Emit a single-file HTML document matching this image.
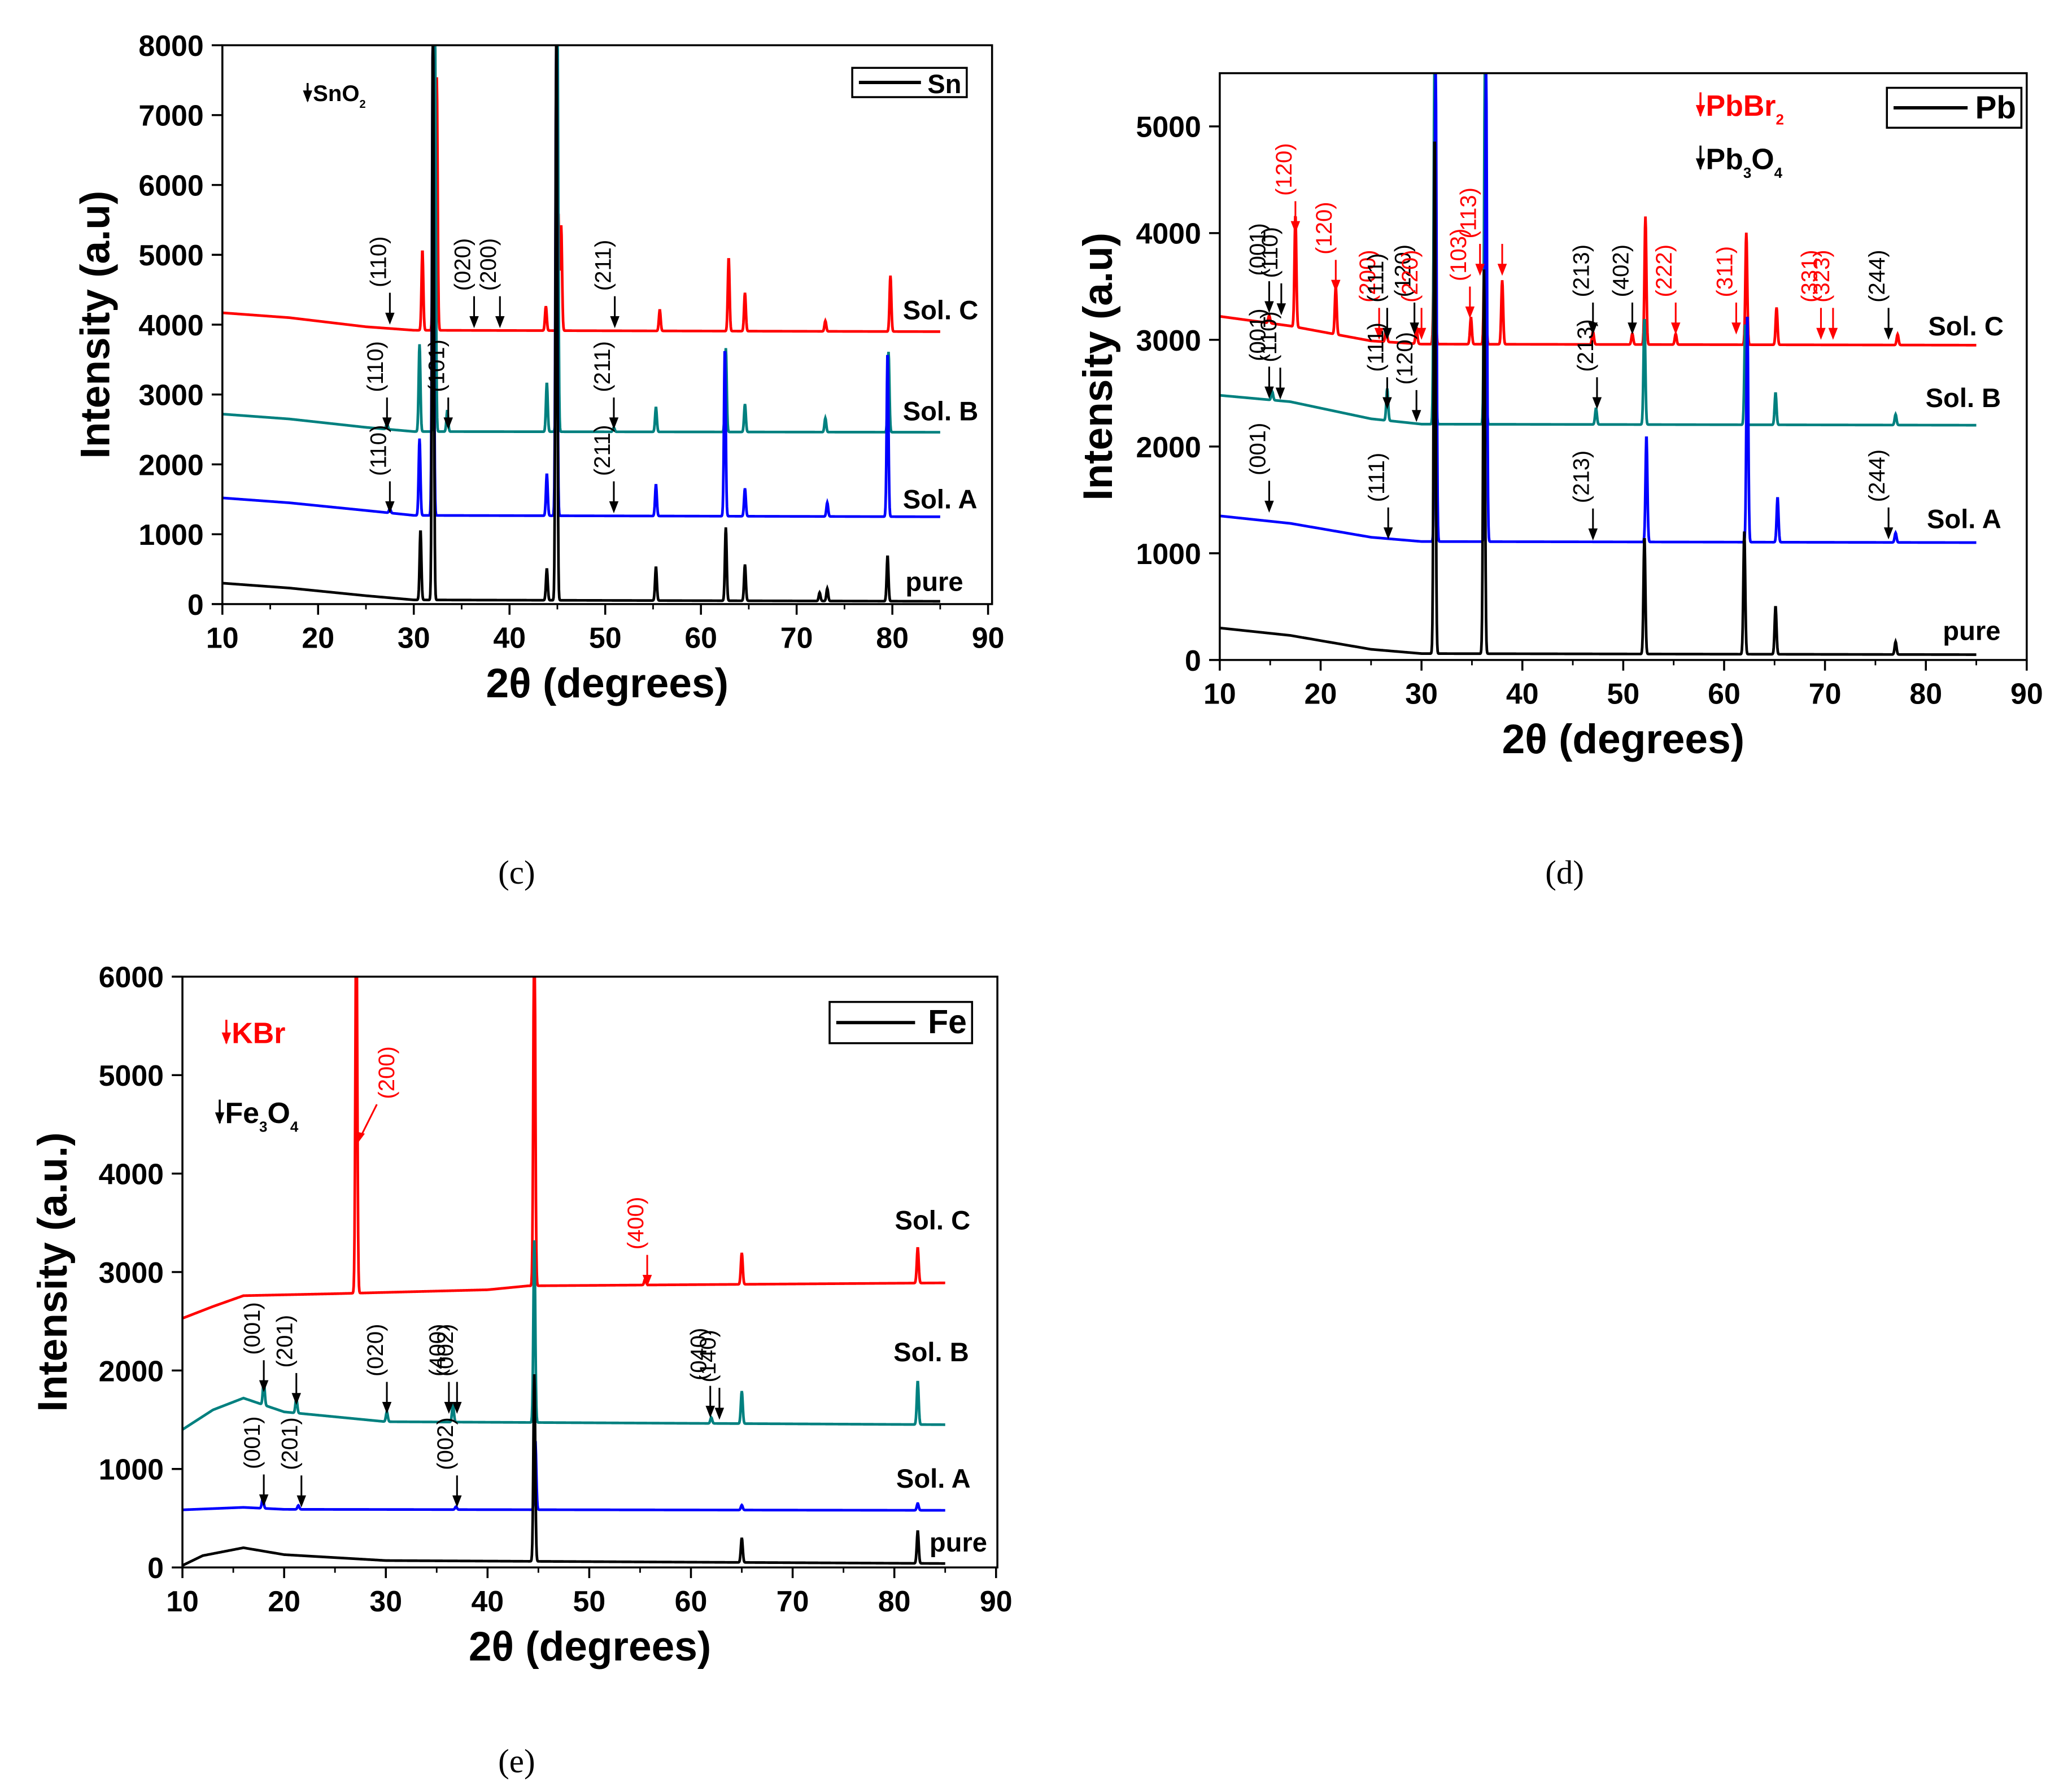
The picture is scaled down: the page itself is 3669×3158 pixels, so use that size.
<!DOCTYPE html>
<html><head><meta charset="utf-8">
<style>
html,body{margin:0;padding:0;background:#fff;}
svg{display:block;}
text{font-family:"Liberation Sans",Arial,sans-serif;}
</style></head>
<body>
<svg id="fig" width="3669" height="3158" viewBox="0 0 1556 1340" preserveAspectRatio="none" xmlns="http://www.w3.org/2000/svg"></svg>
<script>
// ===== Panel (c) Sn data =====
const snXTicks = [10,20,30,40,50,60,70,80,90];
const snYTicks = [0,1000,2000,3000,4000,5000,6000,7000,8000];
const snBase_pure = [[10,300],[17,230],[25,120],[30,60],[85,40]];
const snPeaks_pure = [[30.7,1000],[32.0,8500],[43.9,450],[44.9,8500],[55.3,480],[62.6,1050],[64.6,520],[72.4,120],[73.2,180],[79.5,650]];
const snBase_A = [[10,1520],[17,1450],[25,1340],[30,1270],[85,1250]];
const snPeaks_A = [[27.5,60],[30.6,1100],[32.0,7200],[43.9,600],[44.9,7200],[55.3,450],[62.5,2400],[64.6,400],[73.2,200],[79.5,2350]];
const snBase_B = [[10,2720],[17,2650],[25,2530],[30,2470],[85,2460]];
const snPeaks_B = [[27.2,80],[30.6,1250],[32.2,6000],[33.5,300],[43.9,700],[45.0,6000],[50.9,60],[55.3,350],[62.6,1200],[64.6,400],[73.0,200],[79.6,1150]];
const snBase_C = [[10,4170],[17,4100],[25,3970],[30,3920],[85,3900]];
const snPeaks_C = [[30.9,1150],[32.1,4600],[32.4,3600],[43.8,350],[45.1,1700],[45.4,1500],[55.7,300],[62.9,1050],[64.6,550],[73.0,150],[79.8,800]];

// ===== Panel (d) Pb data =====
const pbXTicks = [10,20,30,40,50,60,70,80,90];
const pbYTicks = [0,1000,2000,3000,4000,5000];
const pbBase_pure = [[10,300],[17,230],[25,100],[30,60],[85,50]];
const pbPeaks_pure = [[31.3,4900],[36.2,3600],[52.1,1100],[62.0,1150],[65.1,450],[77.0,120]];
const pbBase_A = [[10,1350],[17,1280],[25,1150],[30,1110],[85,1100]];
const pbPeaks_A = [[31.4,4500],[36.4,4500],[52.3,1000],[62.3,2150],[65.3,420],[77.0,90]];
const pbBase_B = [[10,2480],[17,2420],[25,2260],[30,2210],[85,2200]];
const pbPeaks_B = [[15.2,80],[26.6,300],[31.3,3500],[36.3,3500],[47.3,150],[52.1,1000],[62.1,950],[65.1,300],[77.0,100]];
const pbBase_C = [[10,3220],[17,3130],[25,2990],[30,2960],[85,2950]];
const pbPeaks_C = [[14.9,70],[17.5,1050],[21.5,450],[26.5,120],[29.5,150],[31.3,1600],[34.9,250],[36.3,1700],[38.0,600],[47.0,120],[50.9,100],[52.2,1200],[55.2,100],[62.2,1050],[65.2,350],[77.2,100]];

// ===== Panel (e) Fe data =====
const feXTicks = [10,20,30,40,50,60,70,80,90];
const feYTicks = [0,1000,2000,3000,4000,5000,6000];
const feBase_pure = [[10,20],[12,120],[16,200],[20,130],[30,70],[85,40]];
const fePeaks_pure = [[44.6,1900],[65.0,250],[82.3,330]];
const feBase_A = [[10,585],[16,610],[20,590],[85,580]];
const fePeaks_A = [[17.9,100],[21.4,40],[36.9,30],[44.7,700],[65.0,50],[82.3,70]];
const feBase_B = [[10,1400],[13,1600],[16,1720],[20,1580],[30,1480],[85,1450]];
const fePeaks_B = [[18.0,250],[21.2,150],[30.1,100],[36.6,180],[44.6,1850],[62.0,60],[65.0,330],[82.3,440]];
const feBase_C = [[10,2530],[13,2650],[16,2760],[25,2780],[40,2820],[44,2860],[85,2890]];
const fePeaks_C = [[27.1,4000],[44.6,4000],[55.5,60],[65.0,320],[82.3,360]];

const NS = "http://www.w3.org/2000/svg";
const svg = document.getElementById('fig');
function el(tag, attrs, parent){
  const e = document.createElementNS(NS, tag);
  for (const k in attrs) e.setAttribute(k, attrs[k]);
  (parent||svg).appendChild(e);
  return e;
}
function baseAt(base, x){
  for (let i=0;i<base.length-1;i++){
    if (x>=base[i][0] && x<=base[i+1][0]){
      const t=(x-base[i][0])/(base[i+1][0]-base[i][0]);
      return base[i][1]+t*(base[i+1][1]-base[i][1]);
    }
  }
  return base[base.length-1][1];
}
function profile(base, peaks, x, w){
  let y = baseAt(base, x);
  for (const p of peaks){ const d=(x-p[0])/w; y += p[1]*Math.exp(-d*d); }
  return y;
}
function makePanel(cfg){
  const g = el('g', {});
  
  
  const sx = v => cfg.x0 + (v-cfg.xmin)/(cfg.xmax-cfg.xmin)*(cfg.x1-cfg.x0);
  const sy = v => cfg.y0 - (v-cfg.ymin)/(cfg.ymax-cfg.ymin)*(cfg.y0-cfg.yTopVal);
  const clip = el('clipPath', {id: cfg.name+'-clip'}, g);
  el('rect', {x:cfg.x0, y:cfg.top, width:cfg.x1f-cfg.x0, height:cfg.y0-cfg.top}, clip);
  cfg.series.forEach(s=>{
    let d='';
    for (let x=10; x<=85.0001; x+=0.04){
      const v = profile(s.base, s.peaks, x, 0.13);
      d += (d?'L':'M') + sx(x).toFixed(2) + ' ' + Math.max(sy(v), cfg.top-5).toFixed(2);
    }
    const p = el('path', {d:d, fill:'none', stroke:s.color, 'stroke-width':2, 'clip-path':'url(#'+cfg.name+'-clip)'}, g);
    
    
    const t = el('text', {x:s.lx, y:s.ly, 'font-size':20, 'font-weight':'bold', fill:'#000'}, g);
    t.textContent = s.label;
    
    
  });
  const fr = el('rect', {x:cfg.x0, y:cfg.top, width:cfg.x1f-cfg.x0, height:cfg.y0-cfg.top, fill:'none', stroke:'#000', 'stroke-width':1.5}, g);
  
  
  cfg.xt.forEach(v=>{
    el('line', {x1:sx(v), x2:sx(v), y1:cfg.y0, y2:cfg.y0+8, stroke:'#000', 'stroke-width':1.5}, g);
    if (v<90) el('line', {x1:sx(v+5), x2:sx(v+5), y1:cfg.y0, y2:cfg.y0+4, stroke:'#000', 'stroke-width':1.2}, g);
    const t = el('text', {x:sx(v), y:cfg.y0+33, 'font-size':22, 'text-anchor':'middle', 'font-weight':'bold'}, g);
    t.textContent = v;
    
    
  });
  cfg.yt.forEach(v=>{
    el('line', {x1:cfg.x0-8, x2:cfg.x0, y1:sy(v), y2:sy(v), stroke:'#000', 'stroke-width':1.5}, g);
    const t = el('text', {x:cfg.x0-14, y:sy(v)+8, 'font-size':22, 'text-anchor':'end', 'font-weight':'bold'}, g);
    t.textContent = v;
    
    
  });
  const xt = el('text', {x:(cfg.x0+cfg.x1f)/2, y:cfg.y0+70, 'font-size':31, 'text-anchor':'middle', 'font-weight':'bold'}, g);
  xt.textContent = '2θ (degrees)';
  
  
  const yt = el('text', {x:0, y:0, 'font-size':31, 'text-anchor':'middle', 'font-weight':'bold', transform:'translate('+cfg.ytx+','+((cfg.top+cfg.y0)/2)+') rotate(-90)'}, g);
  yt.textContent = cfg.ytitle;
  
  
  const lg = el('g', {}, g);
  
  
  el('rect', {x:cfg.lg[0], y:cfg.lg[1], width:cfg.lg[2], height:cfg.lg[3], fill:'#fff', stroke:'#000', 'stroke-width':1.5}, lg);
  el('line', {x1:cfg.lg[0]+5, x2:cfg.lg[0]+cfg.lg[2]*0.6, y1:cfg.lg[1]+cfg.lg[3]/2, y2:cfg.lg[1]+cfg.lg[3]/2, stroke:'#000', 'stroke-width':2.5}, lg);
  const lt = el('text', {x:cfg.lg[0]+cfg.lg[2]-4, y:cfg.lg[1]+cfg.lg[3]/2+8, 'font-size':cfg.lgfs, 'text-anchor':'end', 'font-weight':'bold'}, lg);
  lt.textContent = cfg.lgtext;
  cfg.ann.forEach(a=>{
    const x = sx(a[0]), yb = sy(a[1]);
    const ag = el('g', {}, g);
    
    
    el('line', {x1:x, x2:x, y1:yb-24, y2:yb-6, stroke:a[3], 'stroke-width':1.3}, ag);
    el('path', {d:'M'+(x-3.5)+' '+(yb-9)+'L'+(x+3.5)+' '+(yb-9)+'L'+x+' '+yb+'Z', fill:a[3]}, ag);
    const t = el('text', {x:0, y:0, 'font-size':17, fill:a[3], transform:'translate('+(x-3)+','+(yb-28)+') rotate(-90)'}, ag);
    t.textContent = a[2];
  });
  return {g, sx, sy};
}

makePanel({name:'panel-c-sn', x0:167, x1:742, x1f:745, top:34, y0:454, yTopVal:34, xmin:10, xmax:90, ymin:0, ymax:8000,
  xt:snXTicks, yt:snYTicks, ytitle:'Intensity (a.u)', ytx:82, lg:[640,51,86,22], lgtext:'Sn', lgfs:20,
  series:[
    {base:snBase_C, peaks:snPeaks_C, color:'#ff0000', label:'Sol. C', lx:678, ly:240},
    {base:snBase_B, peaks:snPeaks_B, color:'#00807f', label:'Sol. B', lx:678, ly:316},
    {base:snBase_A, peaks:snPeaks_A, color:'#0000ff', label:'Sol. A', lx:678, ly:382},
    {base:snBase_pure, peaks:snPeaks_pure, color:'#000000', label:'pure', lx:680, ly:444}],
  ann:[[27.5,4000,'(110)','#000'],[36.3,3950,'(020)','#000'],[39.0,3950,'(200)','#000'],[51.0,3950,'(211)','#000'],
       [27.2,2500,'(110)','#000'],[33.6,2500,'(101)','#000'],[50.9,2500,'(211)','#000'],
       [27.5,1300,'(110)','#000'],[50.9,1300,'(211)','#000']]
});
makePanel({name:'panel-d-pb', x0:916, x1:1522, x1f:1522, top:55, y0:496, yTopVal:95, xmin:10, xmax:90, ymin:0, ymax:5000,
  xt:pbXTicks, yt:pbYTicks, ytitle:'Intensity (a.u)', ytx:835, lg:[1417,66,101,30], lgtext:'Pb', lgfs:24,
  series:[
    {base:pbBase_C, peaks:pbPeaks_C, color:'#ff0000', label:'Sol. C', lx:1448, ly:252},
    {base:pbBase_B, peaks:pbPeaks_B, color:'#00807f', label:'Sol. B', lx:1446, ly:306},
    {base:pbBase_A, peaks:pbPeaks_A, color:'#0000ff', label:'Sol. A', lx:1447, ly:397},
    {base:pbBase_pure, peaks:pbPeaks_pure, color:'#000000', label:'pure', lx:1459, ly:481}],
  ann:[[14.9,3250,'(001)','#000'],[16.1,3230,'(110)','#000'],[17.5,4000,'(120)','#ff0000'],[21.5,3450,'(120)','#ff0000'],
       [25.8,3000,'(200)','#ff0000'],[26.6,3000,'(111)','#000'],[29.3,3050,'(120)','#000'],[30.0,3000,'(220)','#ff0000'],
       [34.8,3200,'(103)','#ff0000'],[35.8,3600,'(113)','#ff0000'],[38.0,3600,'','#ff0000'],
       [47.0,3050,'(213)','#000'],[50.9,3050,'(402)','#000'],[55.2,3050,'(222)','#ff0000'],[61.2,3050,'(311)','#ff0000'],
       [69.6,3000,'(331)','#ff0000'],[70.8,3000,'(323)','#ff0000'],[76.3,3000,'(244)','#000'],
       [14.9,2450,'(001)','#000'],[16.0,2440,'(110)','#000'],[26.6,2350,'(111)','#000'],[29.5,2230,'(120)','#000'],[47.4,2350,'(213)','#000'],
       [14.9,1380,'(001)','#000'],[26.7,1130,'(111)','#000'],[47.0,1120,'(213)','#000'],[76.3,1130,'(244)','#000']]
});
makePanel({name:'panel-e-fe', x0:137, x1:748, x1f:749, top:734, y0:1178, yTopVal:734, xmin:10, xmax:90, ymin:0, ymax:6000,
  xt:feXTicks, yt:feYTicks, ytitle:'Intensity (a.u.)', ytx:50, lg:[623,753,107,31], lgtext:'Fe', lgfs:25,
  series:[
    {base:feBase_C, peaks:fePeaks_C, color:'#ff0000', label:'Sol. C', lx:672, ly:924},
    {base:feBase_B, peaks:fePeaks_B, color:'#00807f', label:'Sol. B', lx:671, ly:1023},
    {base:feBase_A, peaks:fePeaks_A, color:'#0000ff', label:'Sol. A', lx:673, ly:1118},
    {base:feBase_pure, peaks:fePeaks_pure, color:'#000000', label:'pure', lx:698, ly:1166}],
  ann:[[55.7,2850,'(400)','#ff0000'],
       [18.0,1780,'(001)','#000'],[21.2,1650,'(201)','#000'],[30.1,1560,'(020)','#000'],[36.2,1560,'(400)','#000'],[37.0,1560,'(002)','#000'],
       [61.9,1520,'(040)','#000'],[62.8,1500,'(140)','#000'],
       [18.0,620,'(001)','#000'],[21.7,610,'(201)','#000'],[37.0,610,'(002)','#000']]
});

(function(){
  const g = el('g', {});
  
  
  el('line', {x1:283, y1:830, x2:270, y2:856, stroke:'#ff0000', 'stroke-width':1.3}, g);
  el('path', {d:'M266 850L274 852L268 860Z', fill:'#ff0000'}, g);
  const t = el('text', {x:0,y:0,'font-size':17, fill:'#ff0000', transform:'translate(296,826) rotate(-90)'}, g);
  t.textContent = '(200)';
})();

function key(x, y, color, main, sub1, mid, sub2, fs, name){
  const g = el('g', {});
  
  
  el('line', {x1:x, x2:x, y1:y-fs*0.8, y2:y, stroke:color, 'stroke-width':1.5}, g);
  el('path', {d:'M'+(x-3.5)+' '+(y-8)+'L'+(x+3.5)+' '+(y-8)+'L'+x+' '+(y+1)+'Z', fill:color}, g);
  const t = el('text', {x:x+4, y:y, 'font-size':fs, 'font-weight':'bold', fill:color}, g);
  t.textContent = main;
  if (sub1){ const s=el('tspan',{dy:fs*0.3,'font-size':fs*0.5},t); s.textContent=sub1; }
  if (mid){ const s=el('tspan',{dy:-fs*0.3},t); s.textContent=mid; }
  if (sub2){ const s=el('tspan',{dy:fs*0.3,'font-size':fs*0.5},t); s.textContent=sub2; }
}
key(231, 76, '#000', 'SnO', '2', '', '', 17, 'sno2-key');
key(1277, 87, '#ff0000', 'PbBr', '2', '', '', 22, 'pbbr2-key');
key(1277, 127, '#000', 'Pb', '3', 'O', '4', 22, 'pb3o4-key');
key(170, 784, '#ff0000', 'KBr', '', '', '', 22, 'kbr-key');
key(165, 844, '#000', 'Fe', '3', 'O', '4', 22, 'fe3o4-key');

[['(c)',388,664],['(d)',1175,664],['(e)',388,1332]].forEach(c=>{
  const t = el('text', {x:c[1], y:c[2], 'font-size':25, 'text-anchor':'middle', style:'font-family:"Liberation Serif",serif'});
  t.textContent = c[0];
  
  
});
</script>
</body></html>
